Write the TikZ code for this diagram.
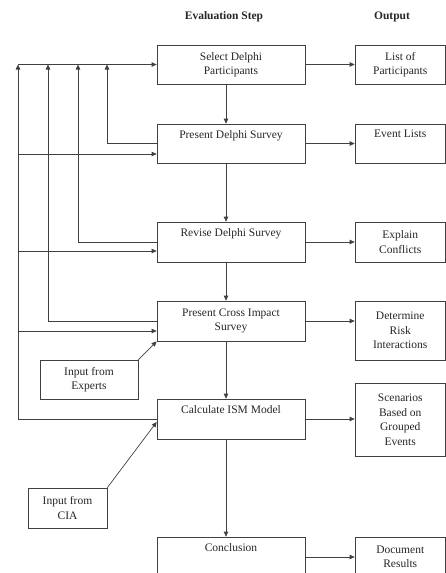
\documentclass[tikz,border=0pt]{standalone}
\usepackage{fontspec}
\setmainfont{Liberation Serif}
\usetikzlibrary{arrows.meta}
\begin{document}
\begin{tikzpicture}[x=1pt,y=-1pt,
  box/.style={draw=black!75, line width=0.7pt, minimum width=148pt, minimum height=39pt,
    align=center, inner sep=0pt, font=\fontsize{11.5}{14.5}\selectfont, text=black!85},
  obox/.style={box, minimum width=90.5pt},
  head/.style={font=\fontsize{11.5}{14}\selectfont\bfseries, text=black!85},
  ln/.style={draw=black!75, line width=0.7pt},
  arr/.style={ln, -{Triangle[length=5pt,width=4.5pt]}}]
\clip (0,0) rectangle (446,573);
% headers
\node[head] (h1) at (224,17) {Evaluation Step};
\node[head] (h2) at (392,17) {Output};
% steps
\node[box] (s1) at (231,64.5) {Select Delphi\\Participants};
\node[box] (s2) at (231,143.5) {Present Delphi Survey\\ \strut};
\node[box, minimum height=40pt] (s3) at (231,242) {Revise Delphi Survey\\ \strut};
\node[box, minimum height=40pt] (s4) at (231,321) {Present Cross Impact\\Survey};
\node[box, minimum height=40pt] (s5) at (231,419) {Calculate ISM Model\\ \strut};
\node[box, minimum height=40pt] (s6) at (231,557) {Conclusion\\ \strut};
% outputs
\node[obox] (o1) at (400.25,64.5) {List of\\Participants};
\node[obox] (o2) at (400.25,143.5) {Event Lists\\ \strut};
\node[obox, minimum height=40pt] (o3) at (400.25,242) {Explain\\Conflicts};
\node[obox, minimum height=59pt] (o4) at (400.25,330.5) {Determine\\Risk\\Interactions};
\node[obox, minimum height=73pt] (o5) at (400.25,419.5) {Scenarios\\Based on\\Grouped\\Events};
\node[obox, minimum height=40pt] (o6) at (400.25,557) {Document\\Results};
% inputs
\node[box, minimum width=98pt] (ex) at (89,379.5) {Input from\\Experts};
\node[box, minimum width=79pt, minimum height=40pt] (cia) at (67.5,508) {Input from\\CIA};
% main flow
\draw[arr] ([xshift=-5pt]s1.south) -- ([xshift=-5pt]s2.north);
\draw[arr] ([xshift=-5pt]s2.south) -- ([xshift=-5pt]s3.north);
\draw[arr] ([xshift=-5pt]s3.south) -- ([xshift=-5pt]s4.north);
\draw[arr] ([xshift=-5pt]s4.south) -- ([xshift=-5pt]s5.north);
\draw[arr] ([xshift=-5pt]s5.south) -- ([xshift=-5pt]s6.north);
% outputs
\foreach \i in {1,...,6} {\draw[arr] (s\i.east) -- (s\i.east -| o\i.west);}
% feedback loops
\coordinate (f1) at (18,64.5);
\coordinate (f4) at (48,64.5);
\coordinate (f3) at (78,64.5);
\coordinate (f2) at (107,64.5);
\draw[arr] (f1) -- (s1.west);
\draw[arr] (s5.west) -| (f1);
\draw[arr] (s4.west) -| (f4);
\draw[arr] (s3.west) -| (f3);
\draw[arr] ([yshift=0.5pt]s2.west) -| (f2);
\coordinate (b2) at (18,154);
\coordinate (b3) at (18,251);
\coordinate (b4) at (18,331);
\draw[arr] (b2) -- (b2 -| s2.west);
\draw[arr] (b3) -- (b3 -| s3.west);
\draw[arr] (b4) -- (b4 -| s4.west);
% inputs
\draw[arr] (ex.north east) -- (s4.south west);
\draw[arr] (cia.north east) -- ([yshift=-3pt]s5.west);
\end{tikzpicture}
\end{document}
